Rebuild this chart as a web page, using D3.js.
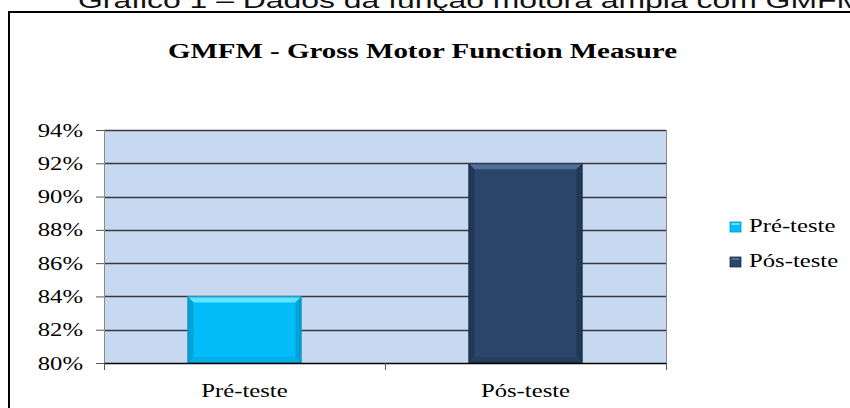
<!DOCTYPE html>
<html><head><meta charset="utf-8">
<script src="https://cdn.jsdelivr.net/npm/d3@7"></script>
<style>body{margin:0;background:#fff;}svg{display:block;}</style>
</head><body>
<svg id="c" width="850" height="408"></svg>
<script>
const categories = ["Pré-teste", "Pós-teste"];
const values = [0.84, 0.92];
const yTicks = [0.80, 0.82, 0.84, 0.86, 0.88, 0.90, 0.92, 0.94];
const seriesNames = ["Pré-teste", "Pós-teste"];
const title = "GMFM - Gross Motor Function Measure";
const caption = "Gráfico 1 – Dados da função motora ampla com GMFM";

const colors = [
  {main:"#03bdfb", light:"#62e6ff", dark:"#0790c4", bottom:"#05a8de"},
  {main:"#2b4669", light:"#4f6f97", dark:"#1c2f4a", bottom:"#243c5b"}
];

const SX = 1.3; // horizontal stretch of the reference image
const svg = d3.select("#c");
const serif = "'Liberation Serif','Times New Roman',serif";
function stretch(sel, ax) {
  sel.attr("transform", function() {
    const a = ax !== undefined ? ax : +(this.getAttribute("x") || 0);
    return `translate(${a},0) scale(${SX},1) translate(${-a},0)`;
  });
}

// caption (cut off at top)
svg.append("text").attr("x", 78).attr("y", 8)
  .attr("font-family", "'Liberation Sans',Arial,sans-serif").attr("font-size", 22)
  .attr("textLength", 785).attr("lengthAdjust", "spacingAndGlyphs")
  .attr("fill", "#111").text(caption);

// frame
svg.append("rect").attr("x", 9).attr("y", 12).attr("width", 900).attr("height", 450)
  .attr("fill", "#fff").attr("stroke", "#000").attr("stroke-width", 2);

// title
svg.append("text").attr("x", 168).attr("y", 58)
  .attr("font-family", serif).attr("font-weight", "bold").attr("font-size", 22)
  .attr("textLength", 509).attr("lengthAdjust", "spacingAndGlyphs")
  .attr("fill", "#000").text(title);

const pLeft = 104, pRight = 666, pTop = 130, pBottom = 363;
const x = d3.scaleBand().domain(categories).range([pLeft, pRight]).padding(0);
const y = d3.scaleLinear().domain([0.80, 0.94]).range([pBottom, pTop]);

// plot background
svg.append("rect").attr("x", pLeft).attr("y", pTop).attr("width", pRight - pLeft).attr("height", pBottom - pTop)
  .attr("fill", "#c6d9f0");

// gridlines
svg.append("g").selectAll("line").data(yTicks.slice(1)).join("line")
  .attr("x1", pLeft).attr("x2", pRight)
  .attr("y1", d => Math.round(y(d)) + 0.5).attr("y2", d => Math.round(y(d)) + 0.5)
  .attr("stroke", "#3a3a3a").attr("stroke-width", 1.3);

// side borders
svg.append("line").attr("x1", pLeft + 0.5).attr("x2", pLeft + 0.5).attr("y1", pTop).attr("y2", pBottom)
  .attr("stroke", "#8a8a8a").attr("stroke-width", 1);
svg.append("line").attr("x1", pRight + 0.5).attr("x2", pRight + 0.5).attr("y1", pTop).attr("y2", pBottom)
  .attr("stroke", "#8a8a8a").attr("stroke-width", 1);

// bars with bevel
const barW = x.bandwidth() * 0.405;
const bev = 6;
const bars = svg.append("g");
categories.forEach((c, i) => {
  const cx = x(c) + x.bandwidth() / 2;
  const x0 = cx - barW / 2, x1 = cx + barW / 2;
  const y0 = y(values[i]), y1 = y(0.80);
  const col = colors[i];
  const g = bars.append("g");
  g.append("rect").attr("x", x0).attr("y", y0).attr("width", barW).attr("height", y1 - y0).attr("fill", col.main);
  const poly = pts => g.append("polygon").attr("points", pts.map(p => p.join(",")).join(" "));
  poly([[x0, y0], [x1, y0], [x1 - bev, y0 + bev], [x0 + bev, y0 + bev]]).attr("fill", col.light);
  poly([[x0, y0], [x0 + bev, y0 + bev], [x0 + bev, y1 - bev], [x0, y1]]).attr("fill", col.dark).attr("opacity", 0.6);
  poly([[x1, y0], [x1 - bev, y0 + bev], [x1 - bev, y1 - bev], [x1, y1]]).attr("fill", col.dark).attr("opacity", 0.6);
  poly([[x0, y1], [x0 + bev, y1 - bev], [x1 - bev, y1 - bev], [x1, y1]]).attr("fill", col.bottom).attr("opacity", 0.7);
  g.append("rect").attr("x", x0 + 0.5).attr("y", y0 + 0.5).attr("width", barW - 1).attr("height", y1 - y0 - 1)
    .attr("fill", "none").attr("stroke", col.dark).attr("stroke-width", 1);
});

// y axis
const yAxis = d3.axisLeft(y).tickValues(yTicks).tickSize(8).tickPadding(13)
  .tickFormat(d => Math.round(d * 100) + "%");
const ya = svg.append("g").attr("transform", `translate(${pLeft},0)`).call(yAxis);
ya.select(".domain").remove();
ya.selectAll("line").attr("stroke", "#555");
ya.selectAll("text").attr("font-family", serif).attr("font-size", 19).attr("fill", "#000").call(stretch);

// x axis
const xa = svg.append("g").attr("transform", `translate(0,${pBottom})`)
  .call(d3.axisBottom(x).tickSize(0).tickPadding(21));
xa.select(".domain").attr("stroke", "#000").attr("stroke-width", 1.5);
xa.selectAll("text").attr("font-family", serif).attr("font-size", 19).attr("fill", "#000").call(stretch, 0);
// category boundary ticks
const bounds = [pLeft, pLeft + x.bandwidth(), pRight];
svg.append("g").selectAll("line").data(bounds).join("line")
  .attr("x1", d => d + 0.5).attr("x2", d => d + 0.5).attr("y1", pBottom).attr("y2", pBottom + 7)
  .attr("stroke", "#555").attr("stroke-width", 1);

// legend
const lg = svg.append("g").attr("transform", "translate(730,0)");
seriesNames.forEach((s, i) => {
  const yy = 222 + i * 35;
  const col = colors[i];
  lg.append("rect").attr("x", 0).attr("y", yy).attr("width", 11).attr("height", 10).attr("fill", col.main)
    .attr("stroke", col.dark).attr("stroke-width", 0.8);
  lg.append("rect").attr("x", 1.5).attr("y", yy + 1).attr("width", 8).attr("height", 2).attr("fill", col.light);
  lg.append("text").attr("x", 19).attr("y", yy + 10).attr("font-family", serif).attr("font-size", 19)
    .attr("fill", "#000").text(s).call(stretch, 19);
});
</script>
</body></html>
